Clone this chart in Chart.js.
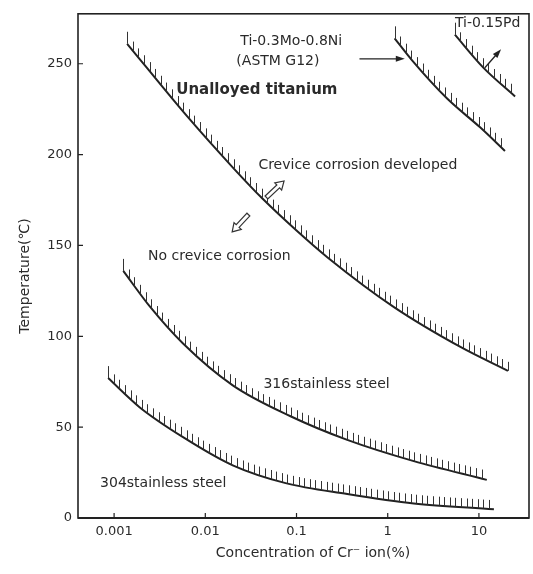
<!DOCTYPE html>
<html>
<head>
<meta charset="utf-8">
<script src="https://cdn.jsdelivr.net/npm/chart.js@4.4.0/dist/chart.umd.min.js"></script>
<style>
	body { margin: 0; background: #ffffff; }
</style>
</head>
<body>
<canvas id="crevice" width="533" height="574"></canvas>
<script>
// critical crevice corrosion lines
var tiX = [0.00139, 0.00634, 0.0203, 0.0423, 0.1, 0.219, 1.16, 6.34, 20.8]
var tiY = [261, 221, 192.6, 175.8, 158.2, 143.4, 116.2, 94, 81]
var moNiX = [1.19, 1.84, 4.45, 10.3, 19.3]
var moNiY = [264, 252, 231, 215, 202]
var pdX = [5.45, 11.1, 24.9]
var pdY = [266, 248, 232]
var ss316X = [0.00126, 0.0025, 0.0057, 0.020, 0.086, 0.36, 1.93, 12.2]
var ss316Y = [136, 116, 96, 73, 56, 43, 31.3, 21]
var ss304X = [0.00086, 0.0019, 0.0057, 0.020, 0.076, 0.36, 1.93, 14.6]
var ss304Y = [77, 61, 44.5, 29, 19.2, 13.2, 8, 4.8]

var xTicks = [0.001, 0.01, 0.1, 1, 10]
var yTicks = [0, 50, 100, 150, 200, 250]

var ink = '#222222'
var fontName = '"DejaVu Sans", sans-serif'

// text on the plot, placed in data units (left edge, middle)
var notes = [
	{text: 'Ti-0.3Mo-0.8Ni', x: 0.0242, y: 262.6, bold: false, size: 14},
	{text: '(ASTM G12)', x: 0.0219, y: 251.1, bold: false, size: 14},
	{text: 'Unalloyed titanium', x: 0.0048, y: 235.7, bold: true, size: 15},
	{text: 'Ti-0.15Pd', x: 5.45, y: 272.3, bold: false, size: 14},
	{text: 'Crevice corrosion developed', x: 0.0382, y: 194, bold: false, size: 14},
	{text: 'No crevice corrosion', x: 0.00236, y: 144, bold: false, size: 14},
	{text: '316stainless steel', x: 0.0434, y: 73.6, bold: false, size: 14},
	{text: '304stainless steel', x: 0.000702, y: 19.2, bold: false, size: 14}
]

// arrows: from (x0,y0) to (x1,y1) in data units
var arrows = [
	{x0: 0.49, y0: 252.7, x1: 1.54, y1: 252.7, hollow: false},
	{x0: 11.6, y0: 247.8, x1: 17.5, y1: 258, hollow: false},
	{x0: 0.0468, y0: 176.4, x1: 0.073, y1: 185.5, hollow: true},
	{x0: 0.0297, y0: 167, x1: 0.0197, y1: 157.5, hollow: true}
]

function pts(xs, ys)
{
	var out = []
	for(var i = 0; i < xs.length; i++)
		out.push({x: xs[i], y: ys[i]})
	return out
}

function curve(xs, ys)
{
	return {
		data: pts(xs, ys),
		borderColor: ink,
		borderWidth: 2,
		pointRadius: 0,
		fill: false,
		cubicInterpolationMode: 'monotone'
	}
}

// sample the drawn bezier segments of a line
function samples(els)
{
	var out = []
	for(var i = 0; i < els.length - 1; i++)
	{
		var p = els[i], q = els[i + 1]
		var ax = p.cp2x == null ? p.x : p.cp2x, ay = p.cp2y == null ? p.y : p.cp2y
		var bx = q.cp1x == null ? q.x : q.cp1x, by = q.cp1y == null ? q.y : q.cp1y
		for(var k = 0; k <= 40; k++)
		{
			var t = k / 40, u = 1 - t
			out.push({
				x: u*u*u*p.x + 3*u*u*t*ax + 3*u*t*t*bx + t*t*t*q.x,
				y: u*u*u*p.y + 3*u*u*t*ay + 3*u*t*t*by + t*t*t*q.y
			})
		}
	}
	return out
}

function yAt(s, x)
{
	for(var i = 0; i < s.length - 1; i++)
	{
		if(x >= s[i].x && x <= s[i + 1].x)
		{
			var d = s[i + 1].x - s[i].x
			var f = d == 0 ? 0 : (x - s[i].x) / d
			return s[i].y + f * (s[i + 1].y - s[i].y)
		}
	}
	return s[s.length - 1].y
}

function arrowPath(ctx, x0, y0, x1, y1, shaft, head, headLen)
{
	var a = Math.atan2(y1 - y0, x1 - x0)
	var len = Math.sqrt((x1 - x0) * (x1 - x0) + (y1 - y0) * (y1 - y0))
	ctx.save()
	ctx.translate(x0, y0)
	ctx.rotate(a)
	ctx.beginPath()
	ctx.moveTo(0, -shaft / 2)
	ctx.lineTo(len - headLen, -shaft / 2)
	ctx.lineTo(len - headLen, -head / 2)
	ctx.lineTo(len, 0)
	ctx.lineTo(len - headLen, head / 2)
	ctx.lineTo(len - headLen, shaft / 2)
	ctx.lineTo(0, shaft / 2)
	ctx.closePath()
	ctx.restore()
}

var decor = {
	id: 'decor',
	afterDatasetsDraw: function(chart)
	{
		var ctx = chart.ctx
		var xs = chart.scales.x, ys = chart.scales.y
		var area = chart.chartArea

		// hatching on the corrosion side of each line
		ctx.save()
		ctx.strokeStyle = '#333333'
		ctx.lineWidth = 1
		for(var i = 0; i < chart.data.datasets.length; i++)
		{
			var els = chart.getDatasetMeta(i).data
			var s = samples(els)
			var x0 = s[0].x, x1 = s[s.length - 1].x
			ctx.beginPath()
			for(var x = x0; x <= x1 + 0.1; x += 5.6)
			{
				var y = yAt(s, x)
				var len = x == x0 ? 12 : 9
				ctx.moveTo(Math.round(x) + 0.5, y)
				ctx.lineTo(Math.round(x) + 0.5, y - len)
			}
			ctx.stroke()
		}
		ctx.restore()

		// frame and inward ticks
		ctx.save()
		ctx.strokeStyle = ink
		ctx.lineWidth = 1.6
		ctx.strokeRect(area.left, area.top, area.right - area.left, area.bottom - area.top)
		ctx.lineWidth = 2
		ctx.beginPath()
		ctx.moveTo(area.left, area.bottom)
		ctx.lineTo(area.right, area.bottom)
		ctx.stroke()
		ctx.lineWidth = 1.2
		ctx.beginPath()
		for(var j = 0; j < xTicks.length; j++)
		{
			var px = xs.getPixelForValue(xTicks[j])
			ctx.moveTo(px, area.bottom)
			ctx.lineTo(px, area.bottom - 5)
		}
		for(var k = 0; k < yTicks.length; k++)
		{
			var py = ys.getPixelForValue(yTicks[k])
			ctx.moveTo(area.left, py)
			ctx.lineTo(area.left + 5, py)
		}
		ctx.stroke()
		ctx.restore()

		// arrows
		ctx.save()
		for(var a = 0; a < arrows.length; a++)
		{
			var ar = arrows[a]
			var ax0 = xs.getPixelForValue(ar.x0), ay0 = ys.getPixelForValue(ar.y0)
			var ax1 = xs.getPixelForValue(ar.x1), ay1 = ys.getPixelForValue(ar.y1)
			if(ar.hollow)
			{
				arrowPath(ctx, ax0, ay0, ax1, ay1, 4, 10, 8)
				ctx.fillStyle = '#ffffff'
				ctx.fill()
				ctx.strokeStyle = '#333333'
				ctx.lineWidth = 1.2
				ctx.stroke()
			}
			else
			{
				var ang = Math.atan2(ay1 - ay0, ax1 - ax0)
				ctx.strokeStyle = ink
				ctx.lineWidth = 1.3
				ctx.beginPath()
				ctx.moveTo(ax0, ay0)
				ctx.lineTo(ax1 - 6 * Math.cos(ang), ay1 - 6 * Math.sin(ang))
				ctx.stroke()
				ctx.fillStyle = ink
				ctx.beginPath()
				ctx.moveTo(ax1, ay1)
				ctx.lineTo(ax1 - 9 * Math.cos(ang) + 3 * Math.sin(ang), ay1 - 9 * Math.sin(ang) - 3 * Math.cos(ang))
				ctx.lineTo(ax1 - 9 * Math.cos(ang) - 3 * Math.sin(ang), ay1 - 9 * Math.sin(ang) + 3 * Math.cos(ang))
				ctx.closePath()
				ctx.fill()
			}
		}
		ctx.restore()

		// notes
		ctx.save()
		ctx.fillStyle = '#2a2a2a'
		ctx.textBaseline = 'middle'
		ctx.textAlign = 'left'
		for(var n = 0; n < notes.length; n++)
		{
			var nt = notes[n]
			ctx.font = (nt.bold ? 'bold ' : '') + nt.size + 'px ' + fontName
			ctx.fillText(nt.text, xs.getPixelForValue(nt.x), ys.getPixelForValue(nt.y))
		}

		// axis titles
		ctx.font = '14px ' + fontName
		ctx.textAlign = 'center'
		ctx.fillText('Concentration of Cr\u207B ion(%)', 313, 553)
		ctx.translate(25, 276)
		ctx.rotate(-Math.PI / 2)
		ctx.fillText('Temperature(\u2103)', 0, 0)
		ctx.restore()
	}
}

window.onload = function()
{
	var ctx = document.getElementById('crevice')
	var chart = new Chart(ctx, {
		type: 'line',
		data: {
			datasets: [
				curve(tiX, tiY),
				curve(moNiX, moNiY),
				curve(pdX, pdY),
				curve(ss316X, ss316Y),
				curve(ss304X, ss304Y)
			]
		},
		plugins: [decor],
		options: {
			responsive: false,
			animation: false,
			layout:
			{
				padding: {left: 0, right: 4, top: 13, bottom: 0}
			},
			plugins:
			{
				legend: {display: false},
				tooltip: {enabled: false}
			},
			scales: {
				x:
				{
					type: 'logarithmic',
					min: 0.000402,
					max: 35.4,
					afterBuildTicks: function(s)
					{
						s.ticks = xTicks.map(function(v) { return {value: v} })
					},
					afterFit: function(s) { s.height = 56 },
					grid: {display: false, drawTicks: false},
					border: {display: false},
					ticks:
					{
						padding: 6,
						autoSkip: false,
						maxRotation: 0,
						color: '#2a2a2a',
						font: {family: fontName, size: 13},
						callback: function(v) { return String(v) }
					}
				},
				y:
				{
					min: 0,
					max: 277.5,
					afterBuildTicks: function(s)
					{
						s.ticks = yTicks.map(function(v) { return {value: v} })
					},
					afterFit: function(s) { s.width = 78 },
					grid: {display: false, drawTicks: false},
					border: {display: false},
					ticks:
					{
						padding: 6,
						color: '#2a2a2a',
						font: {family: fontName, size: 13}
					}
				}
			}
		}
	})
}
</script>
</body>
</html>
